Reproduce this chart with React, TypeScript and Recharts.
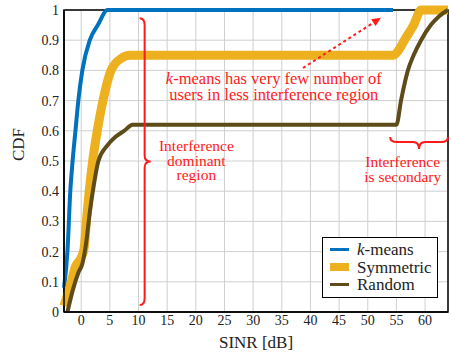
import React from 'react';
import {
  CartesianGrid,
  Line,
  LineChart,
  ReferenceArea,
  ReferenceDot,
  ReferenceLine,
  XAxis,
  YAxis,
} from 'recharts';

const FONT = 'Liberation Serif, DejaVu Serif, serif';
const RED = '#ff1a1a';

const X_TICKS = [0, 5, 10, 15, 20, 25, 30, 35, 40, 45, 50, 55, 60];
const Y_TICKS = [0, 0.1, 0.2, 0.3, 0.4, 0.5, 0.6, 0.7, 0.8, 0.9, 1];

// CDF curves, [SINR dB, CDF]
const kmeansPts = [
  [-3, 0.08], [-2.4, 0.2], [-1.9, 0.4], [-1.5, 0.5], [-1, 0.6], [-0.5, 0.7],
  [0.2, 0.8], [1.5, 0.9], [2.9, 0.95], [4.6, 1], [54.4, 1],
];
const symmetricPts = [
  [-3, 0.02], [-2, 0.08], [-1, 0.15], [0, 0.18], [0.5, 0.21], [0.9, 0.3],
  [1.4, 0.4], [2, 0.5], [2.8, 0.6], [3.8, 0.7], [5.2, 0.8], [7, 0.84],
  [8.5, 0.85], [54.5, 0.85], [55.5, 0.87], [56.4, 0.9], [58, 0.95],
  [59.3, 1], [64, 1],
];
const randomPts = [
  [-2.4, 0], [-1.5, 0.07], [-0.5, 0.13], [0.2, 0.16], [0.8, 0.22],
  [1.5, 0.33], [2.2, 0.42], [3, 0.5], [4.5, 0.55], [6, 0.58], [7.5, 0.6],
  [9, 0.62], [55, 0.62], [55.8, 0.7], [57, 0.8], [58, 0.85], [59.3, 0.9],
  [61, 0.95], [62.5, 0.98], [64, 1],
];

const toRows = (pts: number[][]) => pts.map(([x, y]) => ({ x, y }));

const SERIES = [
  { name: 'k-means', color: '#0072bd', width: 4, data: toRows(kmeansPts) },
  { name: 'Symmetric', color: '#edb120', width: 9, data: toRows(symmetricPts) },
  { name: 'Random', color: '#5e4b1a', width: 4, data: toRows(randomPts) },
];

const VerticalBrace = (props: any) => {
  const { x1, y1, y2 } = props;
  const x = x1;
  const yt = Math.min(y1, y2);
  const yb = Math.max(y1, y2);
  const ym = (yt + yb) / 2;
  const d = `M${x - 5},${yt} Q${x},${yt} ${x},${yt + 7} L${x},${ym - 6} Q${x},${ym} ${x + 6},${ym} Q${x},${ym} ${x},${ym + 6} L${x},${yb - 7} Q${x},${yb} ${x - 5},${yb}`;
  return <path d={d} fill="none" stroke={RED} strokeWidth={2} />;
};

const HorizontalBrace = (props: any) => {
  const { x1, x2, y1 } = props;
  const xl = Math.min(x1, x2);
  const xr = Math.max(x1, x2);
  const xm = (xl + xr) / 2;
  const y = y1;
  const d = `M${xl},${y - 5} Q${xl},${y} ${xl + 7},${y} L${xm - 6},${y} Q${xm},${y} ${xm},${y + 7} Q${xm},${y} ${xm + 6},${y} L${xr - 7},${y} Q${xr},${y} ${xr},${y - 5}`;
  return <path d={d} fill="none" stroke={RED} strokeWidth={2} />;
};

const DottedArrow = (props: any) => {
  const { x1, y1, x2, y2 } = props;
  const ang = Math.atan2(y2 - y1, x2 - x1);
  const len = 9;
  const ax = x2 - len * Math.cos(ang);
  const ay = y2 - len * Math.sin(ang);
  const px = -Math.sin(ang) * 4;
  const py = Math.cos(ang) * 4;
  return (
    <g>
      <line x1={x1} y1={y1} x2={ax} y2={ay} stroke={RED} strokeWidth={2} strokeDasharray="3 3" />
      <polygon points={`${x2},${y2} ${ax + px},${ay + py} ${ax - px},${ay - py}`} fill={RED} />
    </g>
  );
};

const noteShape = (lines: React.ReactNode[], gap: number, size: number) => (props: any) => (
  <text x={props.cx} y={props.cy} fill={RED} fontFamily={FONT} fontSize={size} textAnchor="middle">
    {lines.map((l, i) => (
      <tspan key={i} x={props.cx} dy={i === 0 ? 0 : gap}>
        {l}
      </tspan>
    ))}
  </text>
);

const LegendBox = () => (
  <div
    style={{
      position: 'absolute',
      left: 322,
      top: 237,
      border: '1px solid #000',
      background: '#fff',
      width: 114,
      padding: '3px 0',
      fontFamily: FONT,
      fontSize: 17,
      lineHeight: '17.5px',
      color: '#222',
    }}
  >
    {SERIES.map((s) => (
      <div key={s.name} style={{ display: 'flex', alignItems: 'center' }}>
        <span
          style={{
            display: 'inline-block',
            width: 19,
            height: s.width === 9 ? 8 : 3,
            background: s.color,
            marginLeft: 7,
            marginRight: 8,
          }}
        />
        <span>
          {s.name === 'k-means' ? (
            <>
              <i>k</i>-means
            </>
          ) : (
            s.name
          )}
        </span>
      </div>
    ))}
  </div>
);

export default function App() {
  return (
    <div style={{ position: 'absolute', left: 0, top: 0, width: 451, height: 354, background: '#fff' }}>
      <LineChart width={451} height={354} margin={{ top: 10, right: 3, left: 0, bottom: 0 }}>
        <CartesianGrid stroke="#cfcfcf" strokeWidth={1} />
        <XAxis
          type="number"
          dataKey="x"
          domain={[-3, 64]}
          ticks={X_TICKS}
          allowDuplicatedCategory={false}
          height={42}
          tickLine={false}
          tickSize={0}
          axisLine={{ stroke: '#000', strokeWidth: 1.5 }}
          tick={{ fill: '#222', fontFamily: FONT, fontSize: 14 }}
          tickMargin={3}
          label={{ value: 'SINR [dB]', position: 'insideBottom', offset: 6, fill: '#222', fontFamily: FONT, fontSize: 17 }}
        />
        <YAxis
          type="number"
          domain={[0, 1]}
          ticks={Y_TICKS}
          width={64}
          tickLine={false}
          tickSize={0}
          axisLine={{ stroke: '#000', strokeWidth: 1.5 }}
          tick={{ fill: '#222', fontFamily: FONT, fontSize: 14 }}
          tickMargin={5}
          tickFormatter={(v: number) => String(Math.round(v * 10) / 10)}
          label={{ value: 'CDF', angle: -90, position: 'insideLeft', offset: 18, fill: '#222', fontFamily: FONT, fontSize: 17 }}
        />
        <ReferenceArea x1={-3} x2={64} y1={0} y2={1} fill="none" stroke="#000" strokeWidth={1.5} />
        {SERIES.map((s) => (
          <Line
            key={s.name}
            data={s.data}
            dataKey="y"
            name={s.name}
            type="monotoneX"
            stroke={s.color}
            strokeWidth={s.width}
            dot={false}
            isAnimationActive={false}
          />
        ))}
        <ReferenceLine
          segment={[{ x: 11.07, y: 0.973 }, { x: 11.07, y: 0.023 }]}
          shape={VerticalBrace}
        />
        <ReferenceLine
          segment={[{ x: 53.9, y: 0.563 }, { x: 64, y: 0.563 }]}
          shape={HorizontalBrace}
        />
        <ReferenceLine
          segment={[{ x: 38.7, y: 0.808 }, { x: 52.3, y: 0.974 }]}
          shape={DottedArrow}
        />
        <ReferenceDot
          x={33.6}
          y={0.754}
          r={0}
          shape={noteShape([
            <tspan key="k"><tspan fontStyle="italic">k</tspan>-means has very few number of</tspan>,
            'users in less interference region',
          ], 16, 16.5)}
        />
        <ReferenceDot
          x={20.1}
          y={0.532}
          r={0}
          shape={noteShape(['Interference', 'dominant', 'region'], 14.5, 15.5)}
        />
        <ReferenceDot
          x={56.1}
          y={0.48}
          r={0}
          shape={noteShape(['Interference', 'is secondary'], 14.5, 15.5)}
        />
      </LineChart>
      <LegendBox />
    </div>
  );
}
